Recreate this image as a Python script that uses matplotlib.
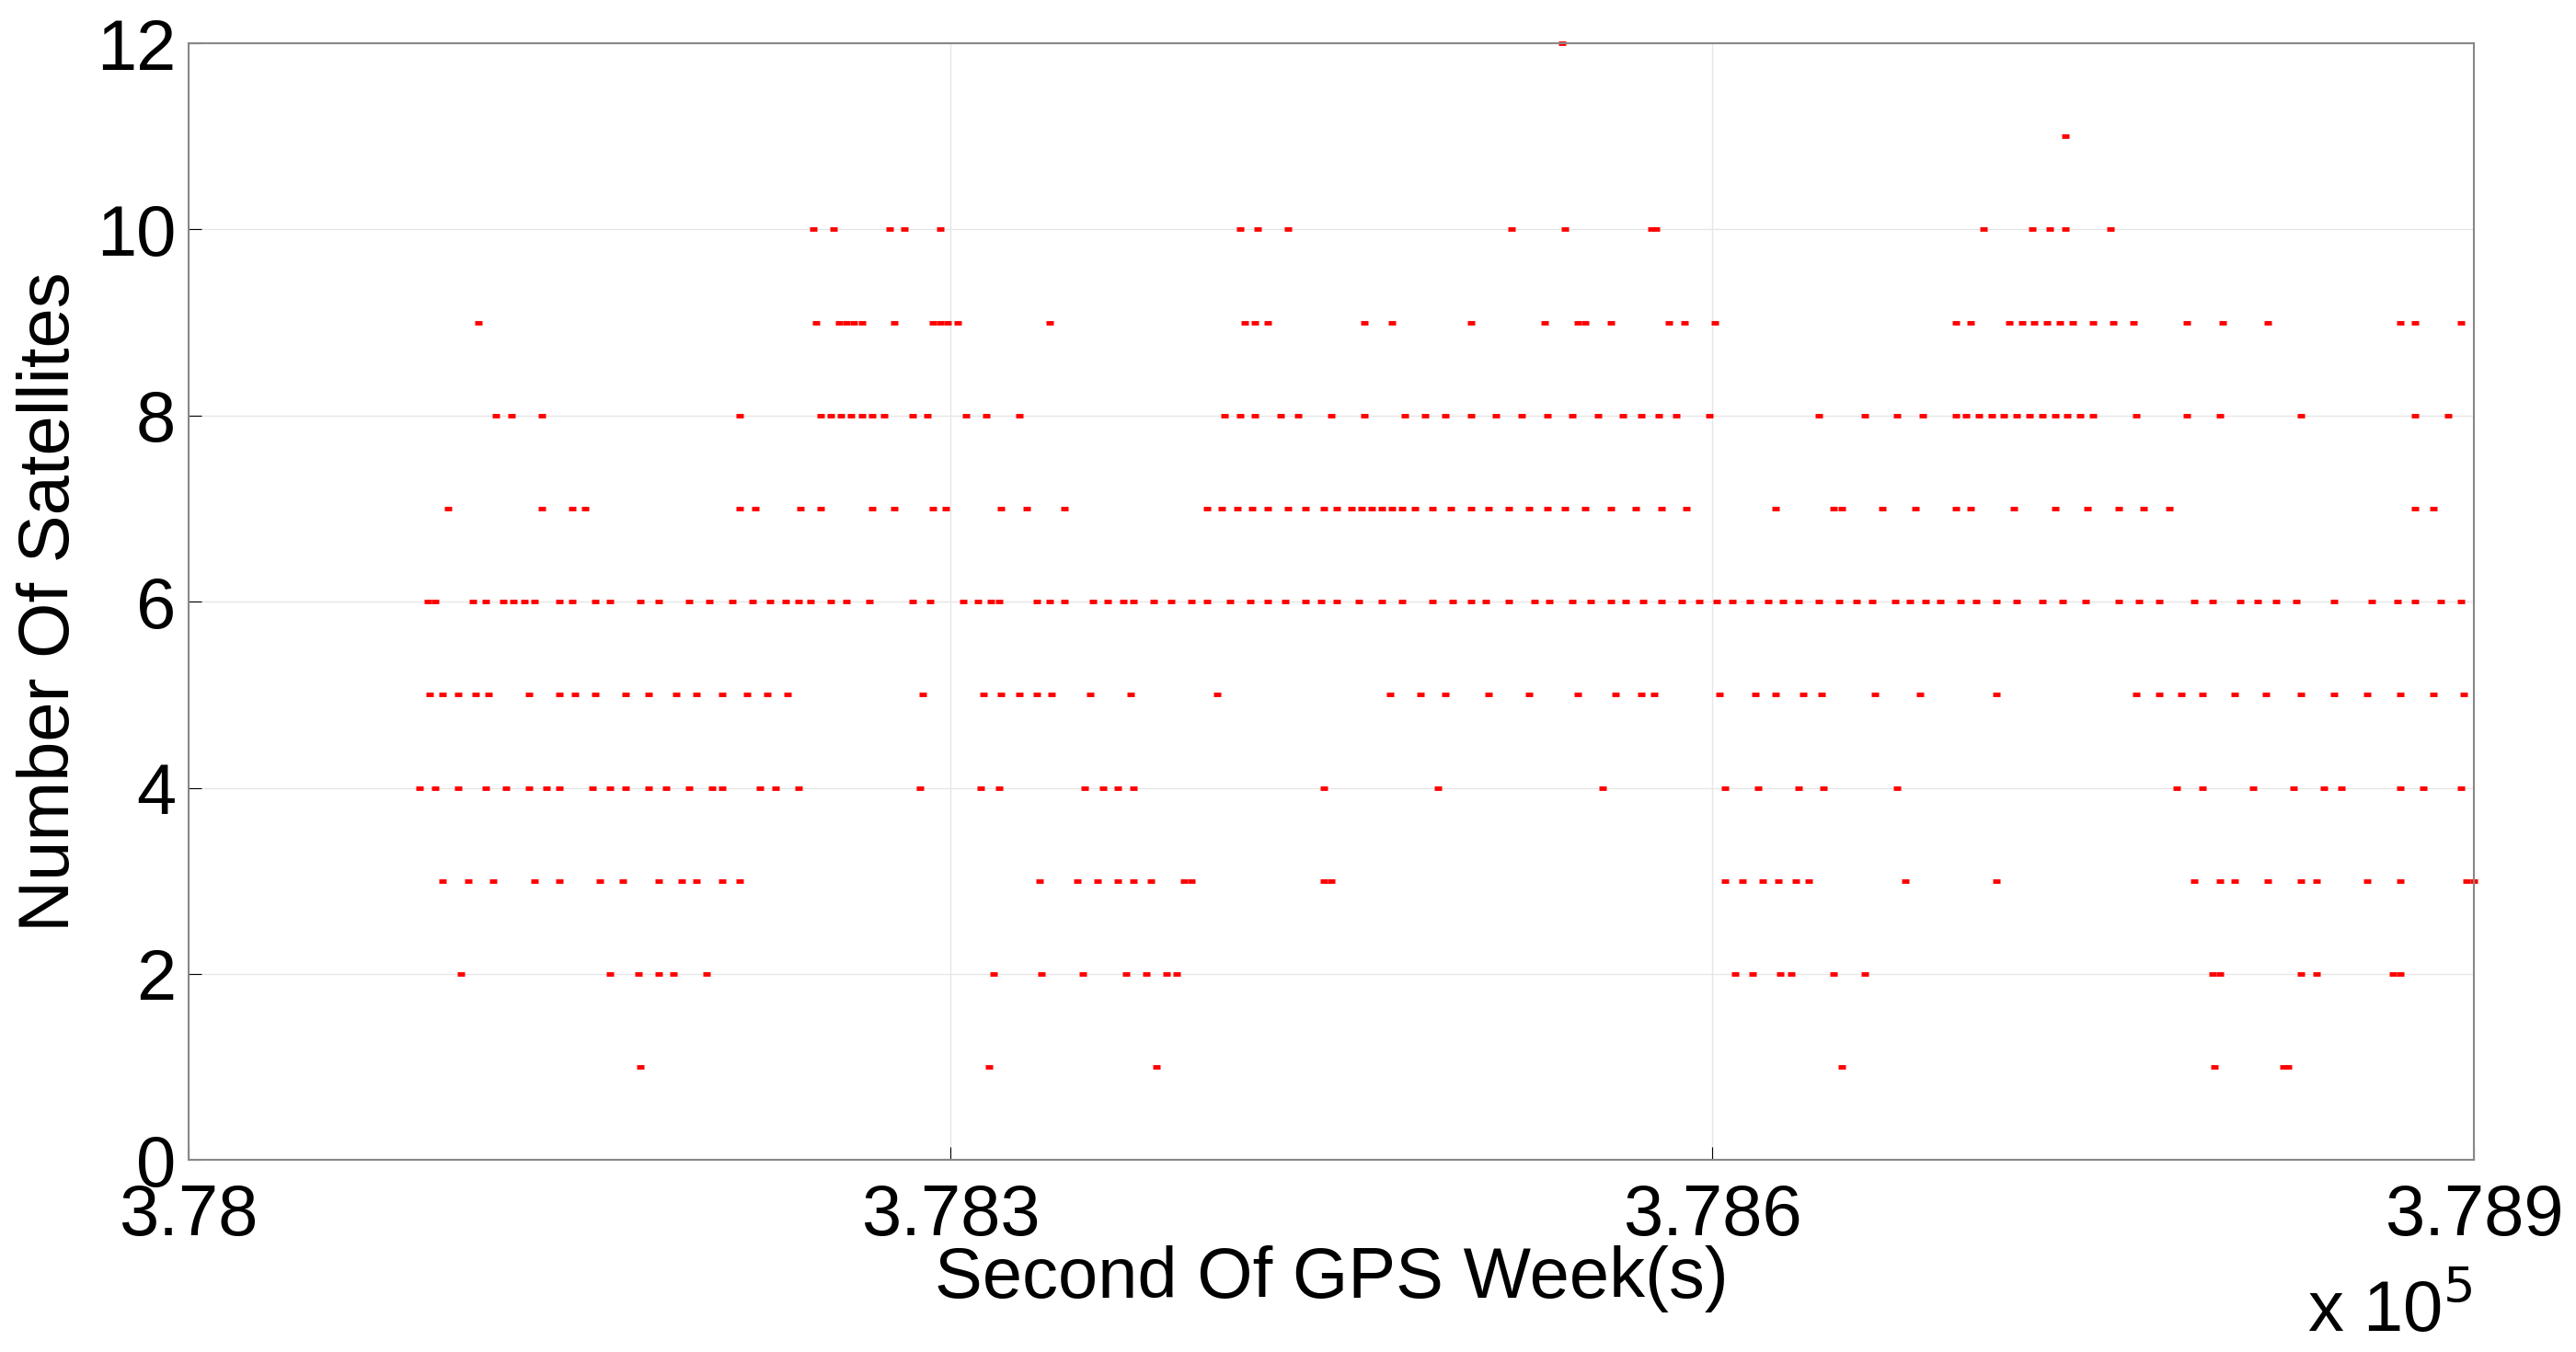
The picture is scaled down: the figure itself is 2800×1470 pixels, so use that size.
import matplotlib
matplotlib.use("Agg")
import matplotlib.pyplot as plt
import numpy as np

base = 378000
levels = {
12: [541],
11: [739],
10: [246,254,276,282,296,414,421,433,521,542,576,578,707,726,733,739,757],
9: [114,247,256,259,262,265,278,293,296,299,303,339,416,420,425,463,474,505,534,547,550,560,583,589,601,696,702,717,722,727,732,737,742,750,758,766,787,801,819,871,877,895],
8: [121,127,139,217,249,253,257,261,265,269,274,285,291,306,314,327,408,414,420,430,437,450,463,479,487,495,505,515,525,535,545,555,565,572,579,586,599,642,660,673,683,696,700,705,710,715,720,725,730,735,740,745,750,767,787,800,832,877,890],
7: [102,139,151,156,217,223,241,249,269,278,293,298,320,330,345,401,407,413,419,425,433,440,447,452,458,462,466,470,474,478,483,490,497,505,512,520,528,535,542,550,560,570,580,590,625,648,651,667,680,696,702,719,735,748,760,770,780,877,884],
6: [94,97,112,117,124,128,132,136,146,151,160,166,178,185,197,205,214,222,229,235,240,245,253,259,268,285,292,305,311,316,319,334,339,345,356,362,368,372,380,387,395,401,410,418,425,432,440,446,452,461,470,478,490,498,505,511,520,530,536,545,552,560,566,573,580,588,595,602,608,615,622,628,634,642,650,657,663,672,678,684,690,698,704,712,720,730,738,747,760,768,776,790,797,808,815,822,830,845,860,870,877,887,895],
5: [95,100,106,113,118,134,146,152,160,172,181,192,200,210,220,228,236,289,313,320,327,334,340,355,371,405,473,485,495,512,528,547,562,572,577,603,617,625,636,643,664,682,712,767,776,785,793,806,818,832,845,858,871,884,896],
4: [91,97,106,117,125,134,141,146,159,166,172,181,188,197,206,210,225,231,240,288,312,319,353,360,366,372,447,492,557,605,618,634,644,673,783,793,813,829,841,848,871,880,895],
3: [100,110,120,136,146,162,171,185,194,200,210,217,335,350,358,366,372,379,392,395,447,450,605,612,620,626,633,638,676,712,790,800,806,819,832,838,858,871,897,900],
2: [107,166,177,185,191,204,317,336,352,369,377,385,389,609,616,627,631,648,660,797,800,832,838,868,871],
1: [178,315,381,651,798,825,827],
}

plt.rcParams['font.family'] = ['Liberation Sans', 'DejaVu Sans']
fig = plt.figure(figsize=(28, 14.7), dpi=100)
ax = fig.add_axes([0.0733, 0.142, 0.887, 0.826])
for lvl, xs in levels.items():
    xs = base + np.array(xs, dtype=float)
    ax.plot(xs, np.full(len(xs), lvl), '_', color='red', markersize=6, markeredgewidth=3.5, clip_on=False)
ax.set_xlim(378000, 378900)
ax.set_ylim(0, 12)
ax.set_xticks([378000, 378300, 378600, 378900])
ax.set_xticklabels(['3.78', '3.783', '3.786', '3.789'])
ax.set_yticks(range(0, 13, 2))
ax.grid(True, color='#e6e6e6', linewidth=1)
ax.tick_params(labelsize=56, direction='in', length=10)
ax.tick_params(axis='x', pad=18)
ax.tick_params(axis='y', pad=10)
for s in ax.spines.values():
    s.set_color('#888888'); s.set_linewidth(1.5)
ax.set_xlabel('Second Of GPS Week(s)', fontsize=56, labelpad=-4)
ax.set_ylabel('Number Of Satellites', fontsize=56, labelpad=10)
fig.text(0.96, 0.005, r'x 10$^5$', fontsize=56, ha='right', va='bottom')
fig.savefig('out.png', dpi=100)
